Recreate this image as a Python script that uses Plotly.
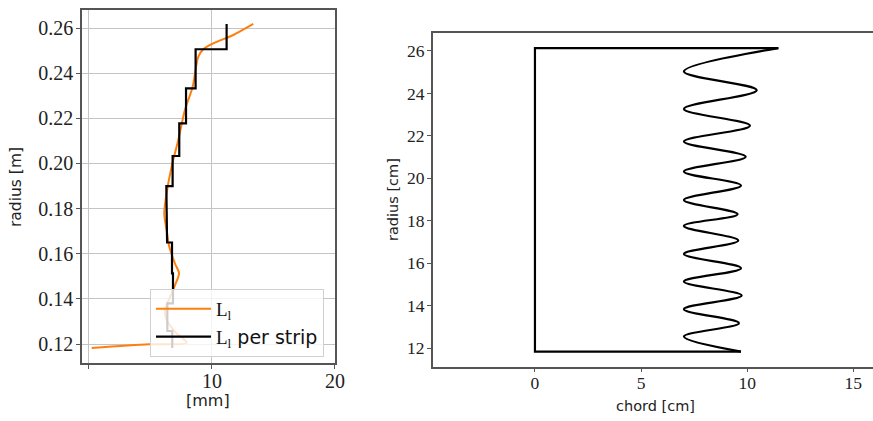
import plotly.graph_objects as go

# ---------------- left panel data ----------------
# orange L_l curve (x in mm, radius in m)
ll_x = [13.36, 11.73, 10.11, 9.29, 8.89, 8.71, 8.43, 7.80, 7.26, 6.72, 6.31, 6.12,
        6.31, 6.53, 6.99, 7.32, 6.99, 6.72, 6.18, 6.31, 7.13, 7.94, 4.9, 0.22]
ll_r = [0.2618, 0.2569, 0.2532, 0.2506, 0.2473, 0.2429, 0.2340, 0.2237, 0.2104, 0.1986, 0.1868, 0.1779,
        0.1705, 0.1631, 0.1557, 0.1513, 0.1461, 0.1425, 0.1351, 0.1306, 0.1247, 0.1206, 0.1199, 0.1183]

# strip edges (m) and L_l per strip (mm), bottom to top
strip_edges = [0.1183, 0.1258, 0.1380, 0.1513, 0.1650, 0.1775, 0.1900, 0.2033, 0.2178, 0.2333, 0.2506, 0.2618]
strip_vals = [6.77, 6.37, 6.83, 6.75, 6.35, 6.29, 6.80, 7.34, 7.89, 8.67, 11.19]

# ---------------- right panel data ----------------
# blade outline (chord cm, radius cm)
outline_x = [9.71, 0.0, 0.0, 11.47]
outline_r = [11.84, 11.84, 26.13, 26.13]
wave_x = [11.47, 7.02, 10.45, 7.02, 10.13, 7.02, 9.93, 7.02, 9.71, 7.02, 9.55,
          7.02, 9.58, 7.02, 9.71, 7.02, 9.74, 7.02, 9.61, 7.02, 9.71]
wave_r = [26.13, 25.03, 24.15, 23.27, 22.48, 21.73, 21.02, 20.32, 19.66, 18.98, 18.31,
          17.76, 17.07, 16.44, 15.77, 15.14, 14.48, 13.84, 13.18, 12.55, 11.84]

left_yticks = [0.12, 0.14, 0.16, 0.18, 0.20, 0.22, 0.24, 0.26]
left_xticks = [0, 10, 20]
left_xticklabels = ["", "10", "20"]
right_yticks = [12, 14, 16, 18, 20, 22, 24, 26]
right_xticks = [0, 5, 10, 15]

# build the step path from the strip data
step_x, step_r = [], []
for i in reversed(range(len(strip_vals))):
    step_x += [strip_vals[i], strip_vals[i]]
    step_r += [strip_edges[i + 1], strip_edges[i]]

SERIF = "Liberation Serif"
SANS = "DejaVu Sans"
TXT = "#222"

fig = go.Figure()
fig.add_trace(go.Scatter(x=ll_x, y=ll_r, mode="lines",
                         line=dict(color="#ff7f0e", width=2, shape="spline", smoothing=0.8),
                         name="L<sub>l</sub>", xaxis="x", yaxis="y"))
fig.add_trace(go.Scatter(x=step_x, y=step_r, mode="lines", line=dict(color="black", width=2.2),
                         name="L<sub>l</sub><span style='font-family:DejaVu Sans'> per strip</span>",
                         xaxis="x", yaxis="y"))
fig.add_trace(go.Scatter(x=outline_x, y=outline_r, mode="lines", line=dict(color="black", width=2.2),
                         showlegend=False, xaxis="x2", yaxis="y2"))
fig.add_trace(go.Scatter(x=wave_x, y=wave_r, mode="lines",
                         line=dict(color="black", width=2.2, shape="spline", smoothing=1.0),
                         showlegend=False, xaxis="x2", yaxis="y2"))

axis_common = dict(showline=True, linecolor="#555", linewidth=1.5, ticks="outside", ticklen=4,
                   tickcolor="#555", tickwidth=1.2, zeroline=False, automargin=False)

title_font = dict(family=SANS, color=TXT)

fig.update_layout(
    width=873, height=421, autosize=False, margin=dict(l=0, r=0, t=0, b=0, pad=0, autoexpand=False),
    plot_bgcolor="white", paper_bgcolor="white",
    xaxis=dict(domain=[0.0939, 0.3837], range=[-0.57, 20], anchor="y", mirror=True,
               tickvals=left_xticks, ticktext=left_xticklabels, ticklabelstandoff=-5,
               showgrid=True, gridcolor="#c4c4c4", gridwidth=1.3,
               tickfont=dict(family=SERIF, size=20, color=TXT), **axis_common),
    yaxis=dict(domain=[0.1366, 0.9774], range=[0.1114, 0.2682], anchor="x", mirror=True,
               tickvals=left_yticks, tickformat=".2f", ticklabelstandoff=-1,
               showgrid=True, gridcolor="#c4c4c4", gridwidth=1.3,
               tickfont=dict(family=SERIF, size=20, color=TXT), **axis_common),
    xaxis2=dict(domain=[0.4956, 1.0], range=[-4.82, 15.93], anchor="y2", mirror=True,
                tickvals=right_xticks, showgrid=False, ticklabelstandoff=-4,
                tickfont=dict(family=SERIF, size=17.5, color=TXT), **axis_common),
    yaxis2=dict(domain=[0.129, 0.9209], range=[11.13, 26.83], anchor="x2", mirror=False,
                tickvals=right_yticks, showgrid=False, ticklabelstandoff=-1,
                tickfont=dict(family=SERIF, size=17.5, color=TXT), **axis_common),
    legend=dict(x=0.1718, y=0.3135, xanchor="left", yanchor="top",
                bgcolor="rgba(255,255,255,0.8)", bordercolor="#d0d0d0", borderwidth=1,
                font=dict(family=SERIF, size=19, color="#111"), tracegroupgap=0, itemwidth=55),
    showlegend=True,
    annotations=[
        dict(text="radius [m]", x=16 / 873, y=1 - 187 / 421, xref="paper", yref="paper",
             xanchor="center", yanchor="middle",
             textangle=-90, showarrow=False, font=dict(size=15.5, **title_font)),
        dict(text="[mm]", x=207.5 / 873, y=1 - 400 / 421, xref="paper", yref="paper",
             xanchor="center", yanchor="middle",
             showarrow=False, font=dict(size=16, **title_font)),
        dict(text="radius [cm]", x=393 / 873, y=1 - 200 / 421, xref="paper", yref="paper",
             xanchor="center", yanchor="middle",
             textangle=-90, showarrow=False, font=dict(size=14.5, **title_font)),
        dict(text="chord [cm]", x=655.5 / 873, y=1 - 406 / 421, xref="paper", yref="paper",
             xanchor="center", yanchor="middle",
             showarrow=False, font=dict(size=14.5, **title_font)),
    ],
)

fig.write_html("out.html", config={"responsive": False})
